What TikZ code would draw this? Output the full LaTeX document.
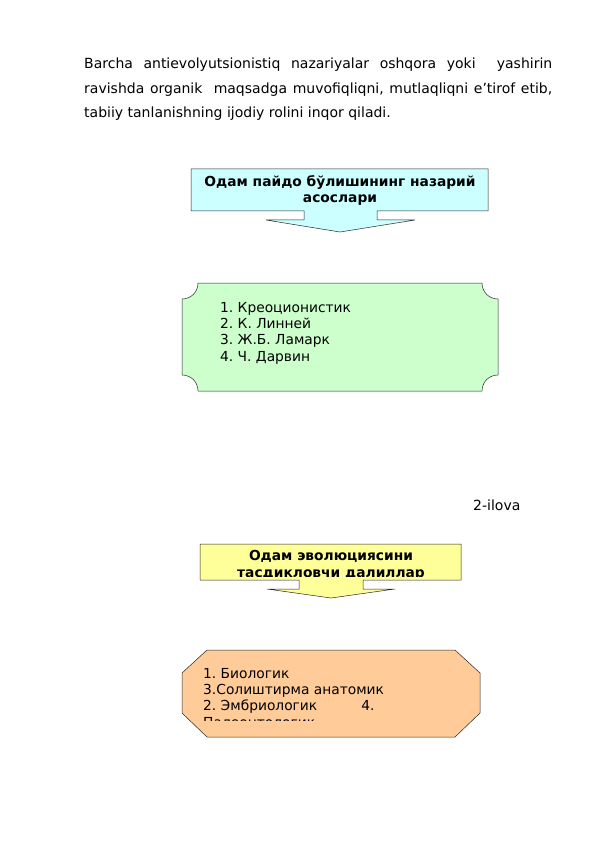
\documentclass[tikz,border=0pt]{standalone}
\usepackage{fontspec}
\setmainfont{DejaVu Sans}
\usetikzlibrary{positioning}
\frenchspacing

\begin{document}
\begin{tikzpicture}[
    x=1pt, y=-1pt,
    para/.style={anchor=base west, inner sep=0pt, align=left, font=\fontsize{14}{24.5}\selectfont},
    ttl/.style={anchor=base, inner sep=0pt, align=center, font=\fontsize{13.8}{15.5}\selectfont\bfseries},
    lst/.style={anchor=base west, inner sep=0pt, align=left, font=\fontsize{13.8}{16.3}\selectfont},
    shp/.style={draw=black!85, line width=0.5pt},
  ]
    \useasboundingbox (0,0) rectangle (596,842);
    % ===== matn (base = oxirgi qator) =====
    \node[para] (txt) at (84,118) {\makebox[468pt][s]{Barcha antievolyutsionistiq nazariyalar oshqora yoki \ yashirin}\\
      \makebox[468pt][s]{ravishda organik \ maqsadga muvofiqliqni, mutlaqliqni e’tirof etib,}\\
      tabiiy tanlanishning ijodiy rolini inqor qiladi.};
    % ===== 1-blok: nazariy asoslar (strelkali) =====
    \draw[shp, fill={rgb,255:red,204;green,255;blue,255}]
      (191,169) -- (488,169) -- (488,211) -- (377,211) -- (377,220) -- (415,220) -- (340,232)
      -- (266,220) -- (304,220) -- (304,211) -- (191,211) -- cycle;
    \node[ttl] (nazariy) at (340,202.5) {Одам пайдо бўлишининг назарий\\асослари};
    % ===== 2-blok: ro'yxat (botiq burchakli) =====
    \draw[shp, fill={rgb,255:red,204;green,255;blue,204}]
      (198,283) -- (482,283) .. controls (482,292) and (489,299) .. (498,299)
      -- (498,375) .. controls (489,375) and (482,382) .. (482,391)
      -- (198,391) .. controls (198,382) and (191,375) .. (182,375)
      -- (182,299) .. controls (191,299) and (198,292) .. (198,283) -- cycle;
    \node[lst] (olimlar) at (220,361) {1. Креоционистик\\2. К. Линней\\3. Ж.Б. Ламарк\\4. Ч. Дарвин};
    % ===== ilova =====
    \node[anchor=base west, inner sep=0pt, font=\fontsize{14}{16}\selectfont] (ilova) at (473,510) {2-ilova};
    % ===== 3-blok: dalillar (strelkali) =====
    \draw[shp, fill={rgb,255:red,255;green,255;blue,153}]
      (200,544) -- (461,544) -- (461,580) -- (363,580) -- (363,589) -- (395,589) -- (331,598)
      -- (267,589) -- (299,589) -- (299,580) -- (200,580) -- cycle;
    \begin{scope}
      \clip (200,544) rectangle (461,576.8);
      \node[ttl, font=\fontsize{13.8}{17}\selectfont\bfseries] (dalil) at (331,577.5) {Одам эволюциясини\\тасдикловчи далиллар};
    \end{scope}
    % ===== 4-blok: sakkizburchak =====
    \draw[shp, fill={rgb,255:red,255;green,204;blue,153}]
      (207,650) -- (455,650) -- (480,673) -- (480,713) -- (455,737) -- (207,737)
      -- (182,713) -- (182,673) -- cycle;
    \begin{scope}
      \clip (182,650) rectangle (480,720);
      \node[lst] (dalillar) at (203,727) {1. Биологик\\3.Солиштирма анатомик\\2. Эмбриологик\hspace{44pt}4.\\Палеонтологик};
    \end{scope}
  \end{tikzpicture}
\end{document}
